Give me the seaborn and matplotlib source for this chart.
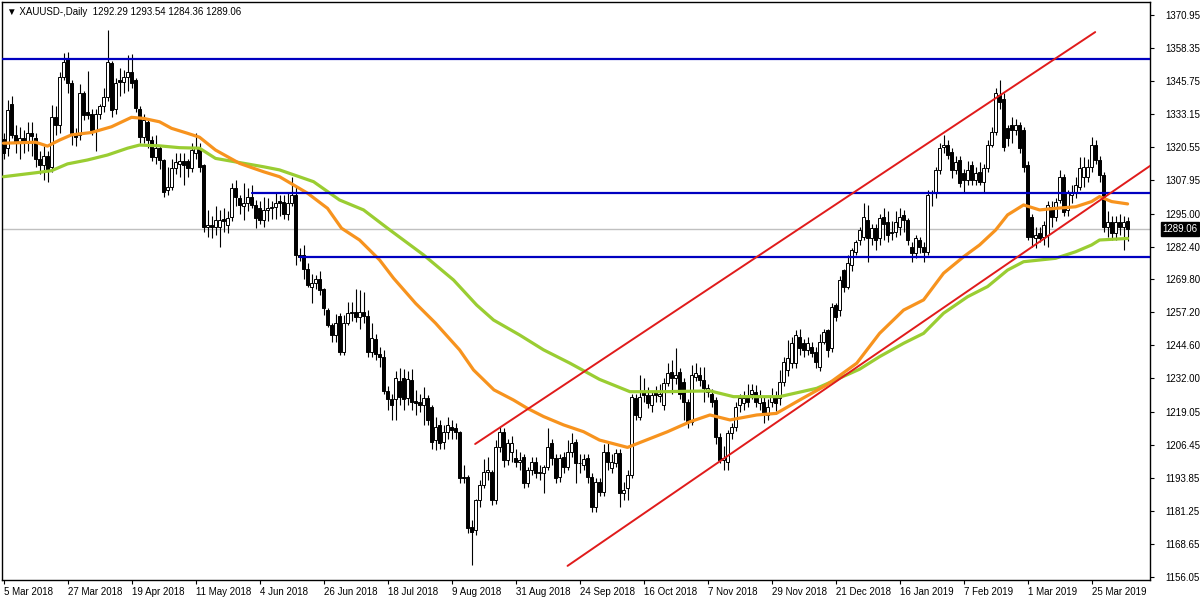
import numpy as np
import pandas as pd
import matplotlib
matplotlib.use("Agg")
import matplotlib.pyplot as plt
import seaborn as sns

# daily candles, 5 Mar 2018 .. 5 Apr 2019 (one entry per trading day)
opens = [1323.5, 1320, 1337, 1325, 1322, 1324, 1322, 1326, 1324, 1316, 1313.6, 1317, 1313, 1332, 1329, 1347.4, 1354.4, 1344.8, 1325.7, 1325,
         1341, 1334, 1333, 1327, 1333, 1336, 1339.7, 1352.5, 1335, 1346, 1345.5, 1347.4, 1349.3, 1346, 1335, 1324.4, 1330, 1323, 1316.8, 1320,
         1315.5, 1304, 1305, 1312.3, 1314, 1315, 1315, 1312.3, 1318, 1320, 1313.6, 1290, 1290.5, 1290, 1290, 1293, 1290.6, 1293.8, 1304.7, 1301,
         1298, 1299, 1301.5, 1298.3, 1297, 1292.5, 1296.4, 1297, 1297.7, 1300, 1299.6, 1295, 1299, 1302, 1279.2, 1279, 1274, 1267, 1268.3, 1270,
         1266, 1258, 1252.4, 1248.6, 1256, 1242.2, 1253, 1256.9, 1257.5, 1255.6, 1257.5, 1256, 1242.2, 1247, 1241.5, 1240, 1227, 1224, 1224, 1231,
         1232, 1224.4, 1231.4, 1223.5, 1223, 1221.8, 1224.4, 1221, 1208.4, 1214.2, 1207.8, 1211.6, 1213.5, 1212.9, 1211.6, 1194.4, 1194.4, 1175.3, 1174, 1185.5,
         1191.2, 1196.3, 1196.3, 1185.5, 1205.9, 1211.6, 1200.8, 1203.9, 1201.4, 1200.1, 1202, 1191.9, 1197, 1200.1, 1195.7, 1195.7, 1198.2, 1207.2, 1201.4, 1194.4,
         1202, 1198.2, 1203.9, 1207.8, 1199.5, 1199, 1201.4, 1194.4, 1182.9, 1192.5, 1188.7, 1204, 1197.6, 1199.5, 1203.3, 1188, 1189.9, 1195, 1224.4, 1217.4,
         1226.9, 1225.6, 1221.8, 1226.9, 1225.3, 1221.8, 1230.1, 1234.5, 1232, 1234.5, 1230.7, 1223, 1215.4, 1232.6, 1233.3, 1231.4, 1226.9, 1226.2, 1223.7, 1209.7,
         1200.8, 1200.1, 1211, 1213.5, 1221.8, 1222.4, 1225, 1226.2, 1226.9, 1222.4, 1223.1, 1218, 1223.1, 1225, 1224.4, 1230.7, 1235.2, 1237.7, 1237.7, 1247.9,
         1245.4, 1242.8, 1244.1, 1242.2, 1236.5, 1246, 1250.5, 1243.5, 1260, 1258.1, 1273.4, 1267.1, 1275.3, 1280.5, 1284.9, 1286.2, 1292.5, 1285.5, 1289.3, 1285.5,
         1293.8, 1291.9, 1287.5, 1288, 1290, 1294.4, 1292.5, 1282.4, 1280, 1284.9, 1282.4, 1280.5, 1302.7, 1302.7, 1311.7, 1320.4, 1321.2, 1318.6, 1311.7, 1315.5,
         1310.4, 1307.8, 1313.6, 1307.8, 1311, 1307.2, 1312.3, 1321.2, 1326.3, 1340.4, 1339, 1327.6, 1328.9, 1327, 1328.9, 1327, 1313.6, 1293.8, 1285.5, 1287.4,
         1286.2, 1286.8, 1297.7, 1293.8, 1300.2, 1309.1, 1296.4, 1302.1, 1303.4, 1305.3, 1309.1, 1309.1, 1312.9, 1321.2, 1315.5, 1309.7, 1290, 1291.9, 1287.4, 1291.9,
         1290, 1292.29]
highs = [1326, 1338.4, 1340, 1329, 1328, 1327, 1330, 1330, 1326, 1319, 1321, 1319, 1336.5, 1336, 1349, 1356.3, 1356.9, 1346, 1327.6, 1344.5,
         1342, 1349.6, 1335, 1335, 1337, 1343, 1365.2, 1353.5, 1347, 1350.5, 1350, 1355.6, 1356, 1347, 1336, 1333, 1331, 1324.5, 1325, 1321,
         1316, 1313, 1316, 1318, 1318, 1318, 1316, 1322, 1325.7, 1322, 1314, 1296.4, 1294, 1298, 1296.4, 1297, 1296, 1306.6, 1308, 1302,
         1306.6, 1304.7, 1306, 1300.2, 1300, 1301.5, 1301, 1300, 1303, 1302, 1302, 1303, 1308.8, 1305, 1282, 1283, 1276, 1272, 1271.5, 1273,
         1266.5, 1259, 1253, 1256.6, 1257, 1256.3, 1261.3, 1261.3, 1266, 1265.8, 1265, 1258, 1253, 1249, 1244, 1243, 1229, 1226, 1235, 1236,
         1235.5, 1235, 1235.5, 1227.5, 1226, 1228.8, 1225.7, 1222, 1217.4, 1216, 1214, 1217.4, 1216, 1215, 1212, 1198.9, 1195, 1178, 1186, 1193,
         1201, 1202, 1197, 1208.4, 1213.5, 1213, 1209, 1210, 1205, 1203.9, 1203, 1198, 1202, 1202, 1199, 1199, 1212.9, 1209, 1203, 1203,
         1204, 1208.4, 1211, 1209, 1203, 1203, 1203, 1196, 1194, 1194, 1207, 1207.2, 1203, 1205, 1205, 1192.5, 1197, 1226, 1226, 1233.3,
         1232, 1228.8, 1227, 1229, 1230, 1232, 1237.7, 1239, 1243.5, 1236, 1232, 1224, 1237, 1237.7, 1236.5, 1236.5, 1230, 1228, 1225, 1211,
         1206, 1212.3, 1215, 1223, 1226, 1227, 1230, 1230, 1229.5, 1227.5, 1225, 1224, 1228.5, 1227, 1235.2, 1240, 1246.6, 1248, 1250.5, 1251,
         1247, 1248, 1246, 1244, 1249, 1251, 1251, 1260.7, 1261, 1271, 1274, 1279, 1282, 1285, 1290, 1298.9, 1298.3, 1291, 1291, 1295,
         1297, 1296, 1292, 1296, 1297, 1296.4, 1293.5, 1284, 1287, 1286, 1284, 1304, 1304, 1313, 1322, 1325, 1323, 1320, 1317, 1317,
         1312, 1315, 1315, 1313, 1314.9, 1314, 1323, 1328, 1343, 1346.1, 1341, 1329, 1332, 1331, 1330, 1328, 1315, 1295, 1290, 1290,
         1292, 1300, 1300, 1301, 1311.6, 1310, 1304, 1306, 1309, 1316.8, 1316.8, 1316, 1324.4, 1323.1, 1317, 1311, 1296, 1294, 1294, 1295,
         1294, 1293.54]
lows = [1316, 1317, 1324, 1318, 1316, 1318, 1319, 1317, 1313, 1310, 1308, 1307, 1311, 1325, 1326, 1346, 1341, 1321.2, 1321, 1323,
        1330.8, 1331, 1325, 1319, 1331, 1334, 1338, 1332, 1333, 1340, 1341, 1342, 1343, 1334, 1322, 1322, 1320, 1315, 1314, 1312,
        1301.5, 1302, 1304, 1310, 1309, 1306, 1309, 1311, 1316, 1311, 1288, 1286, 1285.5, 1287, 1282.4, 1288, 1287.5, 1292, 1298, 1295,
        1292.5, 1296, 1297, 1289.3, 1291, 1290, 1292, 1293, 1293, 1294, 1293, 1292.5, 1298, 1275.3, 1277, 1270, 1267, 1261, 1266, 1264,
        1256.3, 1251.5, 1246, 1246, 1240.9, 1241, 1252.5, 1254, 1253.5, 1251, 1253, 1240, 1240, 1239, 1236.5, 1226, 1220, 1216, 1216, 1222,
        1220, 1222, 1220, 1218, 1219, 1214.2, 1214, 1205, 1204.6, 1205, 1205, 1209, 1209, 1209, 1192, 1191.9, 1173, 1160.6, 1172, 1183,
        1190, 1193, 1183.6, 1184, 1204, 1198, 1199, 1200, 1198, 1197, 1190, 1190.6, 1195, 1194, 1193, 1188, 1197, 1199, 1192, 1192.5,
        1196, 1197, 1202, 1191.9, 1196, 1197, 1192, 1181, 1181, 1187, 1187, 1197, 1196, 1198, 1183, 1185.5, 1185.5, 1194, 1216, 1216,
        1223, 1220.5, 1219, 1223, 1223, 1220, 1229, 1226, 1230, 1224, 1216, 1213, 1214, 1231, 1229, 1223, 1225, 1221, 1207, 1199.5,
        1197, 1197, 1209, 1212, 1219, 1220, 1221, 1224, 1221, 1220, 1214.8, 1216, 1221, 1219.5, 1222, 1229, 1233, 1236, 1236, 1241,
        1240, 1241, 1240, 1235.8, 1235, 1245, 1240, 1242, 1254, 1256, 1265, 1266, 1273, 1279, 1283, 1285, 1276.6, 1283, 1281, 1283,
        1285, 1284, 1285, 1286, 1287, 1288, 1283, 1276.6, 1278, 1280, 1276.6, 1279, 1298, 1301, 1310, 1318, 1316, 1308.5, 1310, 1305,
        1302.7, 1306, 1305.9, 1306, 1306, 1302.7, 1311, 1320.5, 1325, 1335, 1319, 1321, 1322, 1325, 1318, 1311, 1285, 1282.4, 1282, 1284,
        1283, 1282.4, 1290, 1292, 1299, 1294, 1294, 1299, 1301, 1304, 1305, 1307, 1311, 1314, 1307, 1288, 1286, 1285, 1285, 1287,
        1281.1, 1284.36]
closes = [1318, 1334.6, 1325, 1322.5, 1324, 1322, 1326, 1324.5, 1316, 1313.6, 1317, 1311.7, 1332, 1329, 1347.4, 1353.1, 1344.8, 1325.7, 1324.4, 1341,
          1332.7, 1332.7, 1327, 1333, 1336, 1339.7, 1353.1, 1334.6, 1344.8, 1345.5, 1347.4, 1349.3, 1344.8, 1335.3, 1324.4, 1330.8, 1323.1, 1316.8, 1320, 1315.5,
          1303.4, 1305, 1312.3, 1314.9, 1315, 1313.6, 1312.3, 1319.3, 1320.6, 1313, 1290, 1290.5, 1290, 1292.5, 1292.5, 1292, 1293.2, 1304.7, 1301.5, 1298.3,
          1299, 1301.5, 1298.3, 1293.2, 1292.5, 1296.4, 1297, 1297.7, 1299, 1299, 1295, 1299, 1302, 1279.2, 1278.5, 1274, 1267.7, 1268.3, 1270, 1265.8,
          1258.8, 1252.4, 1248.6, 1253, 1242.2, 1253, 1256.9, 1257.5, 1255.6, 1257.5, 1256, 1242.2, 1247.3, 1241.5, 1240, 1227, 1224, 1222, 1232, 1225,
          1224, 1231.9, 1223, 1222.4, 1221.8, 1224.4, 1216.1, 1207.8, 1213.5, 1207.2, 1211.6, 1214.2, 1212.3, 1211.6, 1193.8, 1193.8, 1174.6, 1173.4, 1185.5, 1191.2,
          1196.3, 1196.9, 1185.5, 1205.9, 1211.6, 1200.8, 1207.2, 1207.2, 1200.1, 1200.8, 1191.9, 1197, 1200.1, 1195.7, 1196.3, 1198.2, 1205.9, 1201.4, 1193.8, 1201.4,
          1198.2, 1203.9, 1207.2, 1199.5, 1199.8, 1201, 1194.4, 1182.9, 1192.5, 1188.7, 1204, 1200.1, 1200.1, 1203.3, 1188, 1189.3, 1195, 1225, 1218, 1225,
          1225.6, 1222.4, 1225.6, 1225.6, 1226.2, 1230.1, 1233.9, 1232, 1233.3, 1226.2, 1223, 1215.4, 1233.3, 1233.9, 1231.4, 1228.2, 1228.2, 1223, 1209.7, 1200.8,
          1201.4, 1211, 1213.5, 1221.2, 1224.4, 1224.4, 1223.1, 1227.5, 1223.1, 1225, 1218.6, 1221.2, 1225, 1222.4, 1230.7, 1238.4, 1239.6, 1245.4, 1248.6, 1243.5,
          1242.8, 1245.4, 1241.6, 1238.4, 1246, 1249.9, 1242.8, 1259.4, 1255.6, 1269.6, 1267.1, 1276, 1281.1, 1284.3, 1288.7, 1293.8, 1285.5, 1289.3, 1284.9, 1293.2,
          1291.2, 1286.8, 1288.1, 1291.9, 1293.8, 1292.5, 1284.9, 1279.8, 1285.5, 1282.4, 1280.5, 1302.1, 1303.4, 1311.7, 1320, 1321.2, 1317.4, 1311.7, 1314.9, 1306.6,
          1307.8, 1311.7, 1307.8, 1310.4, 1307.2, 1312.3, 1321.2, 1326.3, 1341, 1337.8, 1320.6, 1323.8, 1327, 1328.9, 1320, 1313, 1286.2, 1286.2, 1286.8, 1285.5,
          1290.6, 1298.3, 1293.8, 1299.6, 1309.1, 1295.7, 1302.7, 1303.4, 1305.9, 1312.3, 1312.9, 1312.9, 1321.2, 1315.5, 1309.7, 1290, 1291.9, 1287.4, 1291.9, 1290,
          1291.9, 1289.06]

# moving averages (candle index, price)
fast_ma_idx = [0, 8, 11, 14, 17, 22, 27, 32, 35, 39, 42, 46, 49, 53, 59, 65, 69, 76, 81, 84.5, 89, 94, 97.5, 103, 108, 114,
               117.5, 122.6, 127.5, 131, 135, 140, 145, 149, 156, 166, 171.6, 176.6, 181.6, 188.3, 193.2, 199, 205.8, 213.3,
               219, 225, 230, 235, 240, 244, 248, 251, 255, 259, 263, 268, 272, 274, 277, 281]
fast_ma_val = [1321.9, 1322.3, 1320.8, 1323.1, 1325.1, 1326.0, 1328.2, 1331.8, 1331.4, 1330.1, 1327.6, 1325.7, 1324.2, 1319.3,
               1314.2, 1311.0, 1309.1, 1302.8, 1297.0, 1289.4, 1284.9, 1277.3, 1270.3, 1260.7, 1253.1, 1242.9, 1235.2, 1227.6,
               1223.7, 1220.5, 1217.4, 1214.2, 1211.6, 1208.4, 1205.6, 1211.6, 1215.4, 1218.0, 1216.1, 1218.0, 1218.6, 1223.7,
               1229.5, 1237.8, 1249.2, 1258.1, 1262.0, 1272.2, 1278.5, 1283.0, 1288.7, 1294.5, 1298.3, 1296.4, 1297.0, 1297.6,
               1299.6, 1301.5, 1299.6, 1298.7]
slow_ma_idx = [0, 8, 12, 16, 21, 26, 31, 34, 39, 44, 49, 53, 59, 65, 69, 77.5, 84, 90, 96, 105, 112.5, 118.3, 122.5, 129, 135,
               141.6, 149, 156.6, 165, 176.6, 182.5, 194, 203.3, 214, 219, 225, 230, 235, 241, 246, 251, 255, 263, 268, 272, 274, 281]
slow_ma_val = [1309.1, 1310.6, 1311.4, 1314.0, 1315.5, 1317.4, 1320.0, 1321.2, 1320.9, 1320.2, 1320.0, 1316.1, 1314.5, 1312.9,
               1311.7, 1307.2, 1300.2, 1296.4, 1289.4, 1279.2, 1269.6, 1260.0, 1254.3, 1248.6, 1242.9, 1237.8, 1231.6, 1226.9,
               1226.9, 1227.2, 1225.0, 1225.0, 1228.2, 1235.5, 1240.3, 1245.4, 1249.2, 1256.9, 1263.2, 1267.1, 1273.4, 1276.6,
               1277.9, 1280.4, 1283.0, 1284.9, 1285.5]

# drawn objects: horizontal levels and the channel lines
level_prices = [1354.1, 1302.9, 1278.4]
level_starts = [-1, 62, 74]
channel_top_idx = [117.9, 272.9]
channel_top_val = [1206.9, 1364.4]
channel_bottom_idx = [141.0, 290.0]
channel_bottom_val = [1160.3, 1316.8]

date_labels = ["5 Mar 2018", "27 Mar 2018", "19 Apr 2018", "11 May 2018", "4 Jun 2018", "26 Jun 2018",
               "18 Jul 2018", "9 Aug 2018", "31 Aug 2018", "24 Sep 2018", "16 Oct 2018", "7 Nov 2018",
               "29 Nov 2018", "21 Dec 2018", "16 Jan 2019", "7 Feb 2019", "1 Mar 2019", "25 Mar 2019"]
price_ticks = [1370.95, 1358.35, 1345.75, 1333.15, 1320.55, 1307.95, 1295.00, 1282.40, 1269.80,
               1257.20, 1244.60, 1232.00, 1219.05, 1206.45, 1193.85, 1181.25, 1168.65, 1156.05]

sns.set_style("white")
plt.rcParams['font.family'] = ['Liberation Sans', 'DejaVu Sans']

df = pd.DataFrame({'open': opens, 'high': highs, 'low': lows, 'close': closes})
df['idx'] = np.arange(len(df))
up = df['close'] >= df['open']
last = df['close'].iloc[-1]

fig = plt.figure(figsize=(12, 6), dpi=100)
ax = fig.add_axes([2 / 1200, 20 / 600, 1148 / 1200, 578 / 600])

# bid line
ax.axhline(last, color='#c0c0c0', linewidth=1, zorder=1)

# candles
ax.vlines(df['idx'], df['low'], df['high'], color='black', linewidth=0.8, zorder=2)
ax.bar(df['idx'][up], (df['close'] - df['open'])[up], bottom=df['open'][up], width=0.7,
       color='white', edgecolor='black', linewidth=0.7, zorder=3)
ax.bar(df['idx'][~up], (df['open'] - df['close'])[~up], bottom=df['close'][~up], width=0.7,
       color='black', edgecolor='black', linewidth=0.7, zorder=3)

# moving averages
sns.lineplot(x=slow_ma_idx, y=slow_ma_val, ax=ax, color='#9acd32', linewidth=2.3, zorder=4)
sns.lineplot(x=fast_ma_idx, y=fast_ma_val, ax=ax, color='#f7931e', linewidth=2.3, zorder=5)

# levels and channel
for p, s in zip(level_prices, level_starts):
    ax.plot([s, 300], [p, p], color='#0000c0', linewidth=1.6, zorder=6)
ax.plot(channel_top_idx, channel_top_val, color='#e01b1b', linewidth=1.4, zorder=6)
ax.plot(channel_bottom_idx, channel_bottom_val, color='#e01b1b', linewidth=1.4, zorder=6)

ax.set_xlim(-0.375, 286.6)
ax.set_ylim(1154.9, 1375.9)

ax.set_xticks(np.arange(0, len(df), 16))
ax.set_xticklabels(date_labels, ha='left', fontsize=7)
ax.yaxis.tick_right()
ax.set_yticks(price_ticks)
ax.set_yticklabels([f"{v:.2f}" for v in price_ticks], fontsize=7)
ax.tick_params(axis='x', direction='out', length=3, pad=2, colors='black', bottom=True)
ax.tick_params(axis='y', direction='out', length=3, pad=8, colors='black', right=True)
for sp in ax.spines.values():
    sp.set_color('black')
    sp.set_linewidth(1)
ax.set_xlabel('')
ax.set_ylabel('')

ax.text(1.011, last, f"{last:.2f}", transform=ax.get_yaxis_transform(), color='white', fontsize=7,
        va='center', ha='left', bbox=dict(facecolor='black', edgecolor='black', pad=1.2), clip_on=False)
ax.text(0.004, 0.991, "\u25bc XAUUSD-,Daily  1292.29 1293.54 1284.36 1289.06", transform=ax.transAxes,
        fontsize=7, va='top', ha='left', color='black', family=['Liberation Sans', 'DejaVu Sans'])

fig.savefig("out.png", dpi=100)
